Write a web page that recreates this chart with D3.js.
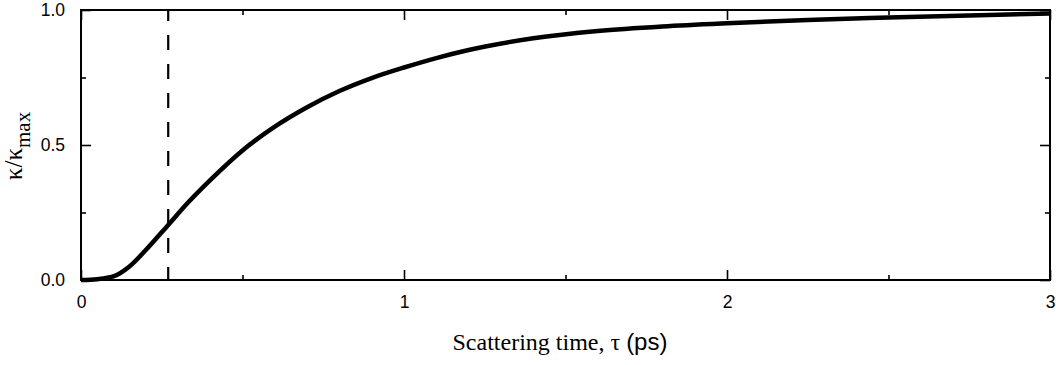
<!DOCTYPE html>
<html>
<head>
<meta charset="utf-8">
<script src="https://cdn.jsdelivr.net/npm/d3@7"></script>
<style>
    body { margin: 0; background: #fff; }
    .axis text { font-family: "Liberation Sans", Arial, sans-serif; font-size: 17.5px; fill: #000; }
    .axis line { stroke: #000; stroke-width: 1.6px; }
    .axis path { display: none; }
</style>
</head>
<body>
<script>
(function(){

    // scattering time (ps) and normalised conductivity
    var tauValues = [0, 0.05, 0.1, 0.15, 0.2, 0.27, 0.33, 0.4, 0.5, 0.6, 0.7, 0.8, 0.9, 1.0, 1.1, 1.2, 1.4, 1.6, 1.8, 2.0, 2.25, 2.5, 2.75, 3.0];
    var kappaValues = [0, 0.003, 0.013, 0.05, 0.11, 0.204, 0.285, 0.37, 0.48, 0.568, 0.64, 0.70, 0.748, 0.787, 0.822, 0.852, 0.895, 0.922, 0.939, 0.951, 0.963, 0.972, 0.98, 0.987];
    var markerTau = [0.27];

    var xMajor = [0, 1, 2, 3],
        xMinor = [0.5, 1.5, 2.5],
        yMajor = [0, 0.5, 1],
        yMinor = [0.25, 0.75];

    window.onload = drawChart;

    function drawChart(){
        var width = 1056,
            height = 365,
            margin = {top: 10, right: 6, bottom: 85, left: 81},
            innerWidth = width - margin.left - margin.right,
            innerHeight = height - margin.top - margin.bottom;

        var svg = d3.select("body")
            .append("svg")
            .attr("width", width)
            .attr("height", height);

        var g = svg.append("g")
            .attr("transform", `translate(${margin.left}, ${margin.top})`);

        var x = d3.scaleLinear().domain([0, 3]).range([0, innerWidth]);
        var y = d3.scaleLinear().domain([0, 1]).range([innerHeight, 0]);

        // ticks on all four sides, pointing inward
        g.append("g").attr("class", "axis")
            .attr("transform", `translate(0, ${innerHeight})`)
            .call(d3.axisBottom(x).tickValues(xMajor).tickSizeInner(-10).tickSizeOuter(0).tickPadding(16).tickFormat(d3.format("d")));
        g.append("g").attr("class", "axis")
            .attr("transform", `translate(0, ${innerHeight})`)
            .call(d3.axisBottom(x).tickValues(xMinor).tickSizeInner(-5).tickSizeOuter(0).tickFormat(""));
        g.append("g").attr("class", "axis")
            .call(d3.axisTop(x).tickValues(xMajor).tickSizeInner(-10).tickSizeOuter(0).tickFormat(""));
        g.append("g").attr("class", "axis")
            .call(d3.axisTop(x).tickValues(xMinor).tickSizeInner(-5).tickSizeOuter(0).tickFormat(""));

        g.append("g").attr("class", "axis")
            .call(d3.axisLeft(y).tickValues(yMajor).tickSizeInner(-10).tickSizeOuter(0).tickPadding(16).tickFormat(d3.format(".1f")));
        g.append("g").attr("class", "axis")
            .call(d3.axisLeft(y).tickValues(yMinor).tickSizeInner(-5).tickSizeOuter(0).tickFormat(""));
        g.append("g").attr("class", "axis")
            .attr("transform", `translate(${innerWidth}, 0)`)
            .call(d3.axisRight(y).tickValues(yMajor).tickSizeInner(-10).tickSizeOuter(0).tickFormat(""));
        g.append("g").attr("class", "axis")
            .attr("transform", `translate(${innerWidth}, 0)`)
            .call(d3.axisRight(y).tickValues(yMinor).tickSizeInner(-5).tickSizeOuter(0).tickFormat(""));

        // dashed marker line
        g.selectAll(".marker")
            .data(markerTau)
            .enter()
            .append("line")
            .attr("class", "marker")
            .attr("x1", d => x(d))
            .attr("x2", d => x(d))
            .attr("y1", y(1))
            .attr("y2", y(0))
            .style("stroke", "#000")
            .style("stroke-width", 2.2)
            .style("stroke-dasharray", "15,14")
            .style("stroke-dashoffset", 4);

        var data = tauValues.map((t, i) => [t, kappaValues[i]]);
        var line = d3.line()
            .x(d => x(d[0]))
            .y(d => y(d[1]))
            .curve(d3.curveMonotoneX);

        g.append("path")
            .datum(data)
            .attr("d", line)
            .style("fill", "none")
            .style("stroke", "#000")
            .style("stroke-width", 4.5)
            .style("stroke-linejoin", "round");

        // frame
        g.append("rect")
            .attr("width", innerWidth)
            .attr("height", innerHeight)
            .style("fill", "none")
            .style("stroke", "#000")
            .style("stroke-width", 2);

        // x title: serif text plus sans unit
        var xTitle = svg.append("text")
            .attr("x", 560)
            .attr("y", 350)
            .attr("text-anchor", "middle")
            .style("font-size", "24px");
        xTitle.append("tspan")
            .style("font-family", "'Liberation Serif', 'Times New Roman', serif")
            .text("Scattering time, \u03c4 ");
        xTitle.append("tspan")
            .style("font-family", "'Liberation Sans', Arial, sans-serif")
            .text("(ps)");

        // y title with subscript
        var yTitle = svg.append("text")
            .attr("transform", `translate(22, ${margin.top + innerHeight / 2 + 1}) rotate(-90)`)
            .attr("text-anchor", "middle")
            .style("font-family", "'Liberation Serif', 'Times New Roman', serif")
            .style("font-size", "25px");
        yTitle.append("tspan").text("\u03ba/\u03ba");
        yTitle.append("tspan")
            .attr("dy", 8)
            .style("font-size", "21px")
            .text("max");
    }

})();
</script>
</body>
</html>
